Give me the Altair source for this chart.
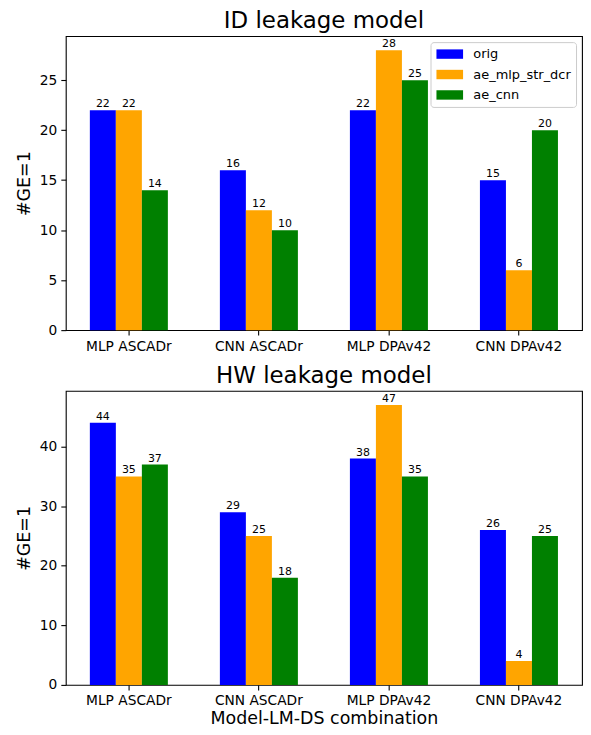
import altair as alt
import pandas as pd

groups = ["MLP ASCADr", "CNN ASCADr", "MLP DPAv42", "CNN DPAv42"]
series = ["orig", "ae_mlp_str_dcr", "ae_cnn"]
colors = ["#0000ff", "#ffa500", "#008000"]

id_orig = [22, 16, 22, 15]
id_ae_mlp = [22, 12, 28, 6]
id_ae_cnn = [14, 10, 25, 20]

hw_orig = [44, 29, 38, 26]
hw_ae_mlp = [35, 25, 47, 4]
hw_ae_cnn = [37, 18, 35, 25]

id_ticks = [0, 5, 10, 15, 20, 25]
hw_ticks = [0, 10, 20, 30, 40]

FONT = "DejaVu Sans"
W = 518
H = 295


def make_df(vals_list):
    rows = []
    for s, vals in zip(series, vals_list):
        for g, v in zip(groups, vals):
            rows.append({"combo": g, "series": s, "value": v})
    return pd.DataFrame(rows)


def panel(df, title, ymax, yticks, xtitle, show_legend):
    xaxis_kw = dict(labelAngle=0, labelFontSize=13.8, labelFont=FONT, labelColor="black",
                    tickColor="black", tickSize=5, tickWidth=1.1, labelPadding=4,
                    domain=False, grid=False)
    if xtitle:
        xaxis_kw.update(title=xtitle, titleFontSize=17.5, titleFont=FONT,
                        titleFontWeight="normal", titleColor="black", titlePadding=2)
    else:
        xaxis_kw.update(title=None)
    base = alt.Chart(df).encode(
        x=alt.X("combo:N", sort=groups,
                scale=alt.Scale(paddingInner=0.4, paddingOuter=0.185),
                axis=alt.Axis(**xaxis_kw)),
        xOffset=alt.XOffset("series:N", sort=series,
                            scale=alt.Scale(paddingInner=0, paddingOuter=0)),
        y=alt.Y("value:Q",
                scale=alt.Scale(domain=[0, ymax], nice=False, zero=True),
                axis=alt.Axis(values=yticks, title="#GE=1", titleFontSize=17.5,
                              titleFont=FONT, titleFontWeight="normal", titleColor="black",
                              labelFontSize=13.8, labelFont=FONT, labelColor="black",
                              tickColor="black", tickSize=5, tickWidth=1.1, labelPadding=4,
                              titlePadding=6, domain=False, grid=False)),
    )
    if show_legend:
        legend = alt.Legend(title=None, orient="none", legendX=366, legendY=6,
                            symbolType="M-1.98,-0.7L1.98,-0.7L1.98,0.7L-1.98,0.7Z",
                            symbolSize=182, symbolStrokeWidth=0, symbolOpacity=1,
                            symbolOffset=7.3,
                            labelFontSize=13, labelFont=FONT, labelColor="black",
                            labelOffset=16.6, rowPadding=6.5, padding=5,
                            strokeColor="#cccccc", fillColor="rgba(255,255,255,0.8)",
                            cornerRadius=3)
    else:
        legend = None
    bars = base.mark_bar().encode(
        color=alt.Color("series:N", sort=series,
                        scale=alt.Scale(domain=series, range=colors),
                        legend=legend)
    )
    text = base.mark_text(baseline="bottom", dy=-1, fontSize=11, font=FONT,
                          color="black").encode(text="value:Q")
    return alt.layer(bars, text).properties(
        width=W, height=H,
        title=alt.TitleParams(title, fontSize=23, font=FONT, fontWeight="normal",
                              color="black", anchor="middle", offset=3),
    )


top = panel(make_df([id_orig, id_ae_mlp, id_ae_cnn]), "ID leakage model", 29.4, id_ticks,
            None, True)
bottom = panel(make_df([hw_orig, hw_ae_mlp, hw_ae_cnn]), "HW leakage model", 49.35, hw_ticks,
               "Model-LM-DS combination", False)

chart = alt.vconcat(top, bottom, spacing=10).resolve_scale(
    color="independent"
).resolve_legend(color="independent").properties(
    padding={"left": 6, "right": 0, "top": 0, "bottom": 0}
).configure_view(
    stroke="black", strokeWidth=1.1
)

chart.save("out.html", embed_options={"renderer": "svg", "actions": False})
